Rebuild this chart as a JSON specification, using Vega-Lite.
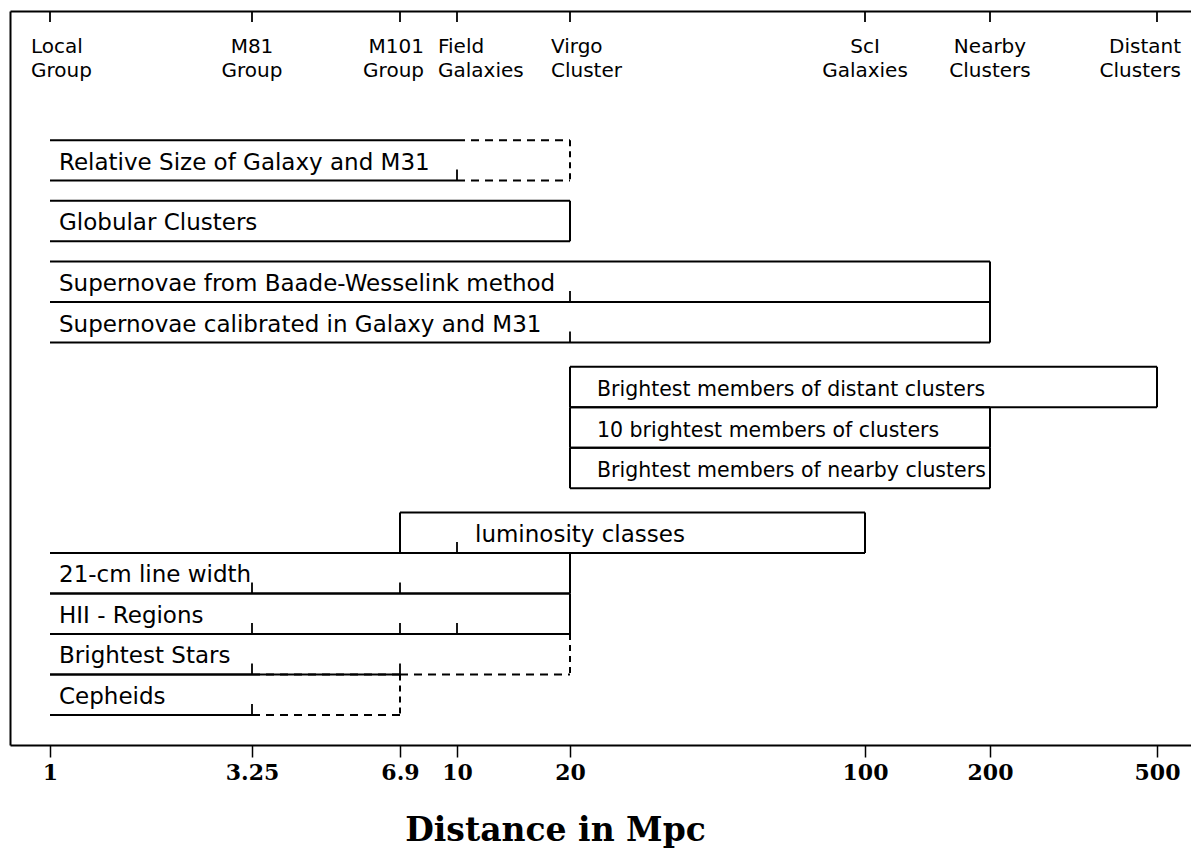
{
  "$schema": "https://vega.github.io/schema/vega-lite/v6.json",
  "width": 1181,
  "height": 734,
  "autosize": "none",
  "padding": {"left": 10, "top": 11, "right": 0, "bottom": 107},
  "background": "white",
  "datasets": {
    "methods": [
      {"method": "Relative Size of Galaxy and M31", "lane": 0, "laneEnd": 1, "from": 1, "firmTo": 10, "to": 20, "calib": [10]},
      {"method": "Globular Clusters", "lane": 1.5, "laneEnd": 2.5, "from": 1, "firmTo": 20, "to": 20, "calib": []},
      {"method": "Supernovae from Baade-Wesselink method", "lane": 3, "laneEnd": 4, "from": 1, "firmTo": 200, "to": 200, "calib": [20]},
      {"method": "Supernovae calibrated in Galaxy and M31", "lane": 4, "laneEnd": 5, "from": 1, "firmTo": 200, "to": 200, "calib": [20]},
      {"method": "Brightest members of distant clusters", "lane": 5.6, "laneEnd": 6.6, "from": 20, "firmTo": 500, "to": 500, "calib": []},
      {"method": "10 brightest members of clusters", "lane": 6.6, "laneEnd": 7.6, "from": 20, "firmTo": 200, "to": 200, "calib": []},
      {"method": "Brightest members of nearby clusters", "lane": 7.6, "laneEnd": 8.6, "from": 20, "firmTo": 200, "to": 200, "calib": []},
      {"method": "luminosity classes", "lane": 9.2, "laneEnd": 10.2, "from": 6.9, "firmTo": 100, "to": 100, "calib": [10]},
      {"method": "21-cm line width", "lane": 10.2, "laneEnd": 11.2, "from": 1, "firmTo": 20, "to": 20, "calib": [3.25, 6.9]},
      {"method": "HII - Regions", "lane": 11.2, "laneEnd": 12.2, "from": 1, "firmTo": 20, "to": 20, "calib": [3.25, 6.9, 10]},
      {"method": "Brightest Stars", "lane": 12.2, "laneEnd": 13.2, "from": 1, "firmTo": 6.9, "to": 20, "calib": [3.25, 6.9]},
      {"method": "Cepheids", "lane": 13.2, "laneEnd": 14.2, "from": 1, "firmTo": 3.25, "to": 6.9, "calib": [3.25]}
    ],
    "landmarks": [
      {"distance": 1, "name": "Local\nGroup"},
      {"distance": 3.25, "name": "M81\nGroup"},
      {"distance": 6.9, "name": "M101\nGroup"},
      {"distance": 10, "name": "Field\nGalaxies"},
      {"distance": 20, "name": "Virgo\nCluster"},
      {"distance": 100, "name": "ScI\nGalaxies"},
      {"distance": 200, "name": "Nearby\nClusters"},
      {"distance": 500, "name": "Distant\nClusters"}
    ]
  },
  "resolve": {"axis": {"x": "independent"}},
  "layer": [
    {
      "data": {"name": "methods"},
      "mark": {"type": "rule", "color": "black", "strokeWidth": 2},
      "encoding": {
        "x": {
          "field": "from", "type": "quantitative",
          "scale": {"type": "log", "domain": [0.792, 1, 3.25, 6.9, 10, 20, 100, 200, 500, 603], "range": [0, 40, 242, 390, 447, 560, 855, 980, 1147, 1181], "nice": false, "zero": false},
          "axis": {
            "orient": "bottom", "values": [1, 3.25, 6.9, 10, 20, 100, 200, 500],
            "labelExpr": "'' + datum.value", "grid": false,
            "tickSize": 12, "tickWidth": 1.5, "tickColor": "black",
            "domainColor": "black", "domainWidth": 2,
            "labelFont": "DejaVu Serif", "labelFontWeight": "bold", "labelFontSize": 22, "labelColor": "black",
            "labelPadding": 5, "labelOverlap": false, "labelFlush": false,
            "title": "Distance in Mpc", "titleFont": "DejaVu Serif", "titleFontWeight": "bold", "titleFontSize": 33, "titleColor": "black", "titlePadding": 31, "titleX": 545
          }
        },
        "x2": {"field": "firmTo"},
        "y": {"field": "lane", "type": "quantitative", "title": null, "scale": {"domain": [-3.19, 14.943], "reverse": true, "nice": false, "zero": false}}
      }
    },
    {
      "data": {"name": "methods"},
      "mark": {"type": "rule", "color": "black", "strokeWidth": 2},
      "encoding": {
        "x": {"field": "from", "type": "quantitative", "axis": null},
        "x2": {"field": "firmTo"},
        "y": {"field": "laneEnd", "type": "quantitative", "title": null}
      }
    },
    {
      "data": {"name": "methods"},
      "transform": [{"filter": "datum.firmTo < datum.to"}],
      "mark": {"type": "rule", "color": "black", "strokeWidth": 2, "strokeDash": [8, 6]},
      "encoding": {
        "x": {"field": "firmTo", "type": "quantitative", "axis": null},
        "x2": {"field": "to"},
        "y": {"field": "lane", "type": "quantitative", "title": null}
      }
    },
    {
      "data": {"name": "methods"},
      "transform": [{"filter": "datum.firmTo < datum.to"}],
      "mark": {"type": "rule", "color": "black", "strokeWidth": 2, "strokeDash": [8, 6]},
      "encoding": {
        "x": {"field": "firmTo", "type": "quantitative", "axis": null},
        "x2": {"field": "to"},
        "y": {"field": "laneEnd", "type": "quantitative", "title": null}
      }
    },
    {
      "data": {"name": "methods"},
      "mark": {"type": "rule", "color": "black", "strokeWidth": 2},
      "encoding": {
        "x": {"field": "to", "type": "quantitative", "axis": null},
        "y": {"field": "lane", "type": "quantitative", "title": null},
        "y2": {"field": "laneEnd"},
        "strokeDash": {"condition": {"test": "datum.firmTo < datum.to", "value": [6, 5]}, "value": [1, 0]}
      }
    },
    {
      "data": {"name": "methods"},
      "transform": [{"filter": "datum.from > 1"}],
      "mark": {"type": "rule", "color": "black", "strokeWidth": 2},
      "encoding": {
        "x": {"field": "from", "type": "quantitative", "axis": null},
        "y": {"field": "lane", "type": "quantitative", "title": null},
        "y2": {"field": "laneEnd"}
      }
    },
    {
      "data": {"name": "methods"},
      "transform": [{"flatten": ["calib"]}],
      "mark": {"type": "rule", "color": "black", "strokeWidth": 1.8, "y2Offset": -11},
      "encoding": {
        "x": {"field": "calib", "type": "quantitative", "axis": null},
        "y": {"field": "laneEnd", "type": "quantitative", "title": null},
        "y2": {"field": "laneEnd"}
      }
    },
    {
      "data": {"name": "methods"},
      "transform": [{"filter": "datum.from == 1"}],
      "mark": {"type": "text", "align": "left", "baseline": "alphabetic", "dx": 9, "dy": -11, "font": "DejaVu Sans", "fontSize": 23, "color": "black"},
      "encoding": {
        "x": {"field": "from", "type": "quantitative", "axis": null},
        "y": {"field": "laneEnd", "type": "quantitative", "title": null},
        "text": {"field": "method"}
      }
    },
    {
      "data": {"name": "methods"},
      "transform": [{"filter": "datum.from == 20"}],
      "mark": {"type": "text", "align": "left", "baseline": "alphabetic", "dx": 27, "dy": -11, "font": "DejaVu Sans", "fontSize": 20.5, "color": "black"},
      "encoding": {
        "x": {"field": "from", "type": "quantitative", "axis": null},
        "y": {"field": "laneEnd", "type": "quantitative", "title": null},
        "text": {"field": "method"}
      }
    },
    {
      "data": {"name": "methods"},
      "transform": [{"filter": "datum.from == 6.9"}],
      "mark": {"type": "text", "align": "left", "baseline": "alphabetic", "dx": 75, "dy": -11, "font": "DejaVu Sans", "fontSize": 23, "color": "black"},
      "encoding": {
        "x": {"field": "from", "type": "quantitative", "axis": null},
        "y": {"field": "laneEnd", "type": "quantitative", "title": null},
        "text": {"field": "method"}
      }
    },
    {
      "data": {"name": "landmarks"},
      "mark": {"type": "rule", "color": "black", "strokeWidth": 1.8, "y2Offset": 11},
      "encoding": {
        "x": {"field": "distance", "type": "quantitative", "axis": null},
        "y": {"datum": -3.19, "type": "quantitative", "title": null},
        "y2": {"datum": -3.19}
      }
    },
    {
      "data": {"name": "landmarks"},
      "transform": [{"filter": "datum.distance == 3.25 || datum.distance == 100 || datum.distance == 200"}],
      "mark": {"type": "text", "align": "center", "baseline": "top", "lineBreak": "\n", "lineHeight": 24, "font": "DejaVu Sans", "fontSize": 20, "color": "black"},
      "encoding": {
        "x": {
          "field": "distance", "type": "quantitative",
          "axis": {
            "orient": "top", "values": [1, 3.25, 6.9, 10, 20, 100, 200, 500],
            "labels": false, "ticks": false, "grid": false, "title": null,
            "domainColor": "black", "domainWidth": 2
          }
        },
        "y": {"datum": -2.55, "type": "quantitative", "title": null},
        "text": {"field": "name"}
      }
    },
    {
      "data": {"name": "landmarks"},
      "transform": [{"filter": "datum.distance == 6.9 || datum.distance == 500"}],
      "mark": {"type": "text", "align": "right", "baseline": "top", "lineBreak": "\n", "lineHeight": 24, "dx": 24, "font": "DejaVu Sans", "fontSize": 20, "color": "black"},
      "encoding": {
        "x": {"field": "distance", "type": "quantitative", "axis": null},
        "y": {"datum": -2.55, "type": "quantitative", "title": null},
        "text": {"field": "name"}
      }
    },
    {
      "data": {"name": "landmarks"},
      "transform": [{"filter": "datum.distance == 1 || datum.distance == 10 || datum.distance == 20"}],
      "mark": {"type": "text", "align": "left", "baseline": "top", "lineBreak": "\n", "lineHeight": 24, "dx": -19, "font": "DejaVu Sans", "fontSize": 20, "color": "black"},
      "encoding": {
        "x": {"field": "distance", "type": "quantitative", "axis": null},
        "y": {"datum": -2.55, "type": "quantitative", "title": null},
        "text": {"field": "name"}
      }
    }
  ],
  "config": {
    "view": {"stroke": null},
    "axisY": {"labels": false, "ticks": false, "grid": false, "domain": true, "domainColor": "black", "domainWidth": 2}
  }
}
